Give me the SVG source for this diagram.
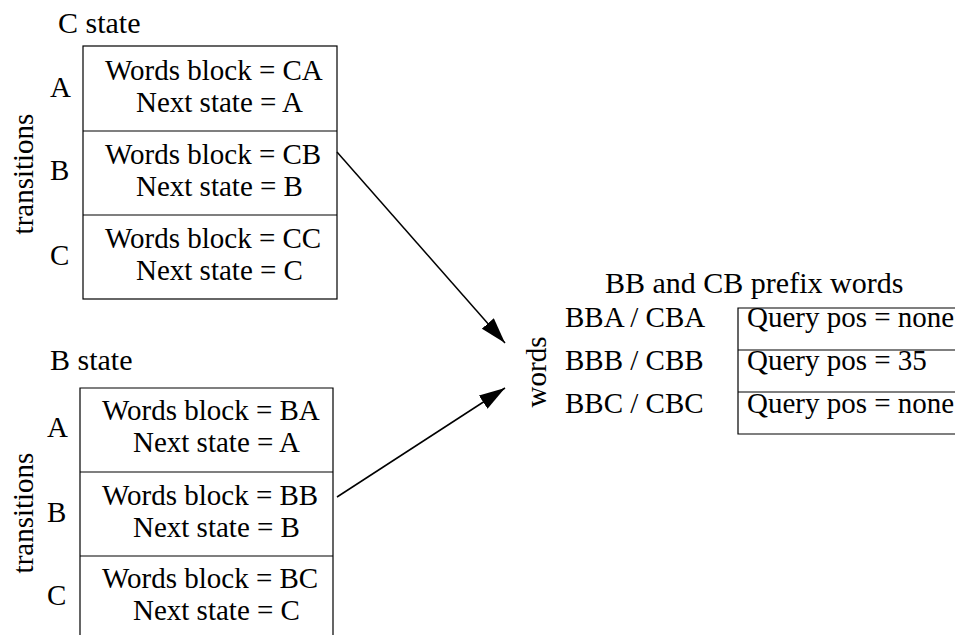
<svg xmlns="http://www.w3.org/2000/svg" width="955" height="635" viewBox="0 0 955 635">
<style>
text{font-family:"Liberation Serif","Times New Roman",serif;font-size:29px;fill:#000}
.title{font-size:30px}
.box{fill:none;stroke:#000;stroke-width:1.2}
.ln{stroke:#000;stroke-width:1.2;fill:none}
.conn{stroke:#000;stroke-width:1.5;fill:none}
</style>
<defs>
<marker id="ah" viewBox="0 0 26 16" refX="26" refY="8" markerWidth="26" markerHeight="16" markerUnits="userSpaceOnUse" orient="auto">
<path d="M0,0 L26,8 L0,16 Z" fill="#000"/>
</marker>
</defs>
<rect width="955" height="635" fill="#fff"/>
<g id="c-state">
<text class="title" x="58" y="33">C state</text>
<text transform="translate(33,174) rotate(-90)" text-anchor="middle">transitions</text>
<text x="50" y="97">A</text>
<text x="50" y="180">B</text>
<text x="50" y="265">C</text>
<rect class="box" x="83" y="46" width="254" height="253"/>
<line class="ln" x1="83" y1="131" x2="337" y2="131"/>
<line class="ln" x1="83" y1="215" x2="337" y2="215"/>
<text x="105" y="80">Words block = CA</text>
<text x="136" y="112">Next state = A</text>
<text x="105" y="164">Words block = CB</text>
<text x="136" y="196">Next state = B</text>
<text x="105" y="248">Words block = CC</text>
<text x="136" y="280">Next state = C</text>
</g>
<g id="b-state">
<text class="title" x="50" y="370">B state</text>
<text transform="translate(33,513) rotate(-90)" text-anchor="middle">transitions</text>
<text x="47" y="437">A</text>
<text x="47" y="522">B</text>
<text x="47" y="605">C</text>
<path class="ln" d="M80,640 V388 H333 V640"/>
<line class="ln" x1="80" y1="472" x2="333" y2="472"/>
<line class="ln" x1="80" y1="556" x2="333" y2="556"/>
<text x="102" y="420">Words block = BA</text>
<text x="133" y="452">Next state = A</text>
<text x="102" y="505">Words block = BB</text>
<text x="133" y="537">Next state = B</text>
<text x="102" y="588">Words block = BC</text>
<text x="133" y="620">Next state = C</text>
</g>
<g id="prefix-words">
<text class="title" x="605" y="293">BB and CB prefix words</text>
<text transform="translate(546,372) rotate(-90)" text-anchor="middle">words</text>
<text x="565" y="327">BBA / CBA</text>
<text x="565" y="370">BBB / CBB</text>
<text x="565" y="413">BBC / CBC</text>
<path class="ln" d="M960,308 H738 V434 H960"/>
<line class="ln" x1="738" y1="350" x2="960" y2="350"/>
<line class="ln" x1="738" y1="392" x2="960" y2="392"/>
<text x="747" y="327">Query pos = none</text>
<text x="747" y="370">Query pos = 35</text>
<text x="747" y="413">Query pos = none</text>
</g>
<g id="connectors">
<line class="conn" x1="337" y1="152" x2="505" y2="343" marker-end="url(#ah)"/>
<line class="conn" x1="337" y1="497" x2="505" y2="388" marker-end="url(#ah)"/>
</g>
</svg>
